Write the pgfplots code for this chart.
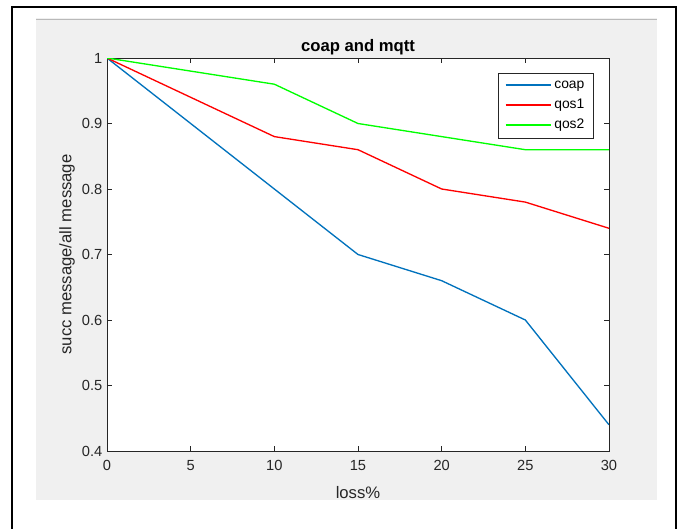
\documentclass[border=0pt]{standalone}
\usepackage{pgfplots}
\pgfplotsset{compat=1.18}
\usepackage{fontspec}
\setmainfont{Liberation Sans}
\definecolor{axgray}{rgb}{0.15,0.15,0.15}
\definecolor{figbg}{rgb}{0.94,0.94,0.94}
\definecolor{mblue}{rgb}{0,0.447,0.741}
\begin{document}
\begin{tikzpicture}
\begin{scope}[x=0.75pt,y=0.75pt]
\useasboundingbox (0,0) rectangle (683,529);
% figure background and frame
\fill[figbg] (36,29) rectangle (657,511);
\draw[gray!55, line width=1.2pt] (36,509.5) -- (657,509.5);
\draw[black, line width=1.5pt] (12,0) -- (12,522) -- (676,522) -- (676,0);
\end{scope}
\begin{axis}[
    at={(80.25pt,58.5pt)}, anchor=south west,
    scale only axis,
    width=376.5pt, height=294.75pt,
    xmin=0, xmax=30, ymin=0.4, ymax=1,
    xtick={0,5,...,30},
    ytick={0.4,0.5,0.6,0.7,0.8,0.9,1},
    yticklabels={0.4,0.5,0.6,0.7,0.8,0.9,1},
    axis line style={axgray, line width=0.5pt},
    tick style={axgray, line width=0.5pt},
    tick align=inside,
    major tick length=3.75pt,
    axis background/.style={fill=white},
    /pgf/number format/assume math mode=true,
    ticklabel style={font=\fontsize{11}{13}\selectfont, text=axgray},
    xticklabel style={yshift=-3.5pt},
    title={coap and mqtt},
    title style={font=\bfseries\fontsize{12.5}{14}\selectfont, yshift=-7pt},
    xlabel={loss\%},
    ylabel={succ message/all message},
    xlabel style={yshift=-5pt},
    ylabel style={yshift=-1.5pt},
    label style={font=\fontsize{12.5}{14}\selectfont, text=axgray},
    legend style={at={(1,1)}, anchor=north east, xshift=-11.25pt, yshift=-11.25pt,
        draw=axgray, fill=white,
        font=\fontsize{10.4}{12}\selectfont,
        row sep=2.5pt, inner xsep=5pt, inner ysep=3.5pt},
    legend cell align=left,
    legend image code/.code={\draw[#1, line width=1.5pt] (0pt,0pt) -- (33.75pt,0pt);},
]
\addplot[draw=mblue, line width=1pt] coordinates {
    (0,1) (10,0.8) (15,0.7) (20,0.66) (25,0.6) (30,0.44)
};
\addlegendentry{coap}
\addplot[draw=red, line width=1pt] coordinates {
    (0,1) (10,0.88) (15,0.86) (20,0.8) (25,0.78) (30,0.74)
};
\addlegendentry{qos1}
\addplot[draw=green, line width=1pt] coordinates {
    (0,1) (10,0.96) (15,0.9) (20,0.88) (25,0.86) (30,0.86)
};
\addlegendentry{qos2}
\end{axis}
\end{tikzpicture}
\end{document}
